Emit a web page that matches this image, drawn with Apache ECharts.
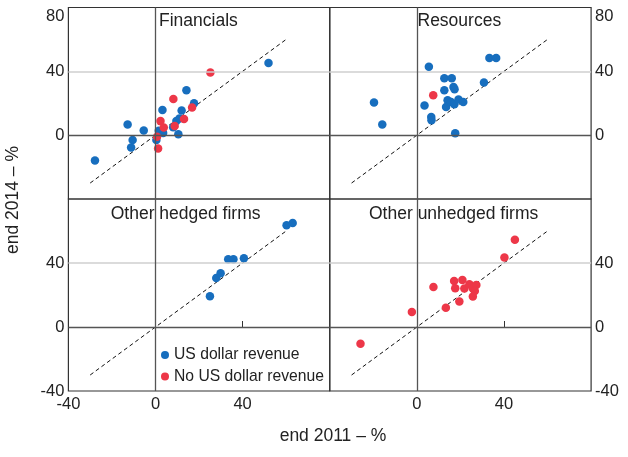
<!DOCTYPE html>
<html>
<head>
<meta charset="utf-8">
<script src="https://cdn.jsdelivr.net/npm/echarts@6/dist/echarts.min.js"></script>
<style>
html, body { margin: 0; padding: 0; background: #fff; }
#chart { width: 628px; height: 457px; }
</style>
</head>
<body>
<div id="chart"></div>
<script>
// 数据：[end 2011, end 2014] (%)
const financialsUsd = [[-27.8, -15.8], [-12.8, 6.7], [-5.4, 2.9], [-10.5, -3.1], [-11.2, -7.7], [3.2, 15.8], [14.2, 28.1], [17.7, 20], [12, 15.4], [9.6, 8.9], [8.1, 5], [10.5, 0.6], [3.5, 1.4], [1.5, 2.7], [0.4, -3.1], [51.9, 45.2], [11, 10.5]];
const financialsNoUsd = [[25.2, 39.2], [8.2, 22.7], [16.8, 17.3], [13.1, 10.2], [8.8, 5.8], [2.3, 8.8], [3.8, 4.8], [0.7, -1], [1.2, -8.3]];
const resourcesUsd = [[-19.7, 20.4], [-15.9, 6.7], [5.5, 42.9], [3.5, 18.6], [6.6, 11.4], [6.7, 9.4], [12.6, 35.6], [16, 35.6], [12.6, 28.2], [16.8, 30.2], [17.3, 28.7], [14.1, 21.9], [13.4, 17.7], [15.7, 20.8], [17.2, 19.4], [19.1, 22.4], [21.3, 20.8], [17.6, 1.2], [30.8, 33], [33.3, 48.3], [36.4, 48.3]];
const resourcesNoUsd = [[7.5, 25]];
const hedgedUsd = [[25, 19.2], [27.9, 30.6], [29.9, 33.6], [33.4, 42.3], [35.8, 42.3], [40.6, 42.9], [60.2, 63.6], [63, 65]];
const hedgedNoUsd = [];
const unhedgedUsd = [];
const unhedgedNoUsd = [[-25.9, -10.4], [-2.3, 9.4], [7.6, 25], [13.3, 12.1], [17.1, 28.8], [17.6, 24.2], [19.5, 15.9], [20.9, 29.4], [21.8, 24], [24.1, 26.7], [25.7, 24], [27.3, 26.3], [26.6, 22.5], [25.7, 19], [40.2, 43.4], [45, 54.6]];

// 45度参考线
const diagonal = [[-30, -30], [60, 60]];

// 坐标轴刻度
const axisMin = -40;
const axisMax = 80;
const axisStep = 40;

const seriesNames = ['US dollar revenue', 'No US dollar revenue'];
const panelNames = ['Financials', 'Resources', 'Other hedged firms', 'Other unhedged firms'];

const initChart = () => {
    const dom = document.getElementById('chart');
    const myChart = echarts.init(dom, null, { renderer: 'canvas' });

    const font = '"Liberation Sans", Arial, sans-serif';
    const blue = '#176ebe';
    const red = '#ed3748';
    const textColor = '#222';

    const panels = [
        { usd: financialsUsd, noUsd: financialsNoUsd, left: 68.4, top: 7.5, height: 191.5, bottom: false, right: false },
        { usd: resourcesUsd, noUsd: resourcesNoUsd, left: 329.8, top: 7.5, height: 191.5, bottom: false, right: true },
        { usd: hedgedUsd, noUsd: hedgedNoUsd, left: 68.4, top: 199, height: 192, bottom: true, right: false },
        { usd: unhedgedUsd, noUsd: unhedgedNoUsd, left: 329.8, top: 199, height: 192, bottom: true, right: true }
    ];

    const grid = [];
    const xAxis = [];
    const yAxis = [];
    const series = [];

    panels.forEach((p, i) => {
        grid.push({
            left: p.left,
            top: p.top,
            width: 261.3,
            height: p.height,
            show: true,
            borderColor: '#333',
            borderWidth: 1.2,
            backgroundColor: 'transparent',
            outerBoundsMode: 'none'
        });

        xAxis.push({
            type: 'value',
            gridIndex: i,
            min: axisMin,
            max: axisMax,
            interval: axisStep,
            axisLine: { show: false },
            splitLine: { show: false },
            axisTick: { show: p.bottom, inside: true, length: 6, lineStyle: { color: '#333' } },
            axisLabel: {
                show: p.bottom,
                showMinLabel: !p.right,
                showMaxLabel: false,
                color: textColor,
                fontSize: 16.5,
                fontFamily: font,
                margin: 5
            }
        });

        yAxis.push({
            type: 'value',
            gridIndex: i,
            position: p.right ? 'right' : 'left',
            min: axisMin,
            max: axisMax,
            interval: axisStep,
            axisLine: { show: false },
            axisTick: { show: false },
            splitLine: { show: false },
            axisLabel: {
                showMinLabel: p.bottom,
                showMaxLabel: !p.bottom,
                verticalAlignMaxLabel: 'top',
                color: textColor,
                fontSize: 16.5,
                fontFamily: font,
                margin: 4
            }
        });

        // 参考线：零线、40 网格线、45度虚线
        series.push({
            type: 'line',
            xAxisIndex: i,
            yAxisIndex: i,
            data: diagonal,
            symbol: 'none',
            silent: true,
            z: 1,
            lineStyle: { color: '#111', width: 1, type: [4, 3] },
            markLine: {
                silent: true,
                symbol: 'none',
                label: { show: false },
                data: [
                    { yAxis: 40, lineStyle: { color: '#cfcfcf', width: 1.5, type: 'solid' } },
                    { yAxis: 0, lineStyle: { color: '#555', width: 1.3, type: 'solid' } },
                    { xAxis: 0, lineStyle: { color: '#555', width: 1.3, type: 'solid' } }
                ]
            }
        });

        series.push({
            name: seriesNames[0],
            type: 'scatter',
            xAxisIndex: i,
            yAxisIndex: i,
            symbolSize: 8.5,
            itemStyle: { color: blue, opacity: 1 },
            z: 3,
            data: p.usd
        });
        series.push({
            name: seriesNames[1],
            type: 'scatter',
            xAxisIndex: i,
            yAxisIndex: i,
            symbolSize: 8.5,
            itemStyle: { color: red, opacity: 1 },
            z: 3,
            data: p.noUsd
        });
    });

    const labelStyle = { fill: textColor, fontSize: 17.5, fontFamily: font };

    const option = {
        animation: false,
        backgroundColor: '#fff',
        grid: grid,
        xAxis: xAxis,
        yAxis: yAxis,
        legend: {
            data: seriesNames,
            orient: 'vertical',
            left: 161,
            top: 347,
            padding: 0,
            itemGap: 5.5,
            itemWidth: 8,
            itemHeight: 8,
            icon: 'circle',
            selectedMode: false,
            textStyle: { color: textColor, fontSize: 15.7, fontFamily: font }
        },
        graphic: [
            { type: 'text', x: 159, y: 21.5, style: Object.assign({ text: panelNames[0], verticalAlign: 'middle' }, labelStyle) },
            { type: 'text', x: 417.5, y: 21.5, style: Object.assign({ text: panelNames[1], verticalAlign: 'middle' }, labelStyle) },
            { type: 'text', x: 110.7, y: 214.5, style: Object.assign({ text: panelNames[2], verticalAlign: 'middle' }, labelStyle) },
            { type: 'text', x: 369, y: 214.5, style: Object.assign({ text: panelNames[3], verticalAlign: 'middle' }, labelStyle) },
            { type: 'text', x: 13.5, y: 200, rotation: Math.PI / 2, style: Object.assign({ text: 'end 2014 – %', align: 'center', verticalAlign: 'middle' }, labelStyle) },
            { type: 'text', x: 333, y: 436, style: Object.assign({ text: 'end 2011 – %', align: 'center', verticalAlign: 'middle' }, labelStyle) }
        ],
        series: series
    };

    myChart.setOption(option);
    window.addEventListener('resize', myChart.resize);
};

initChart();
</script>
</body>
</html>
